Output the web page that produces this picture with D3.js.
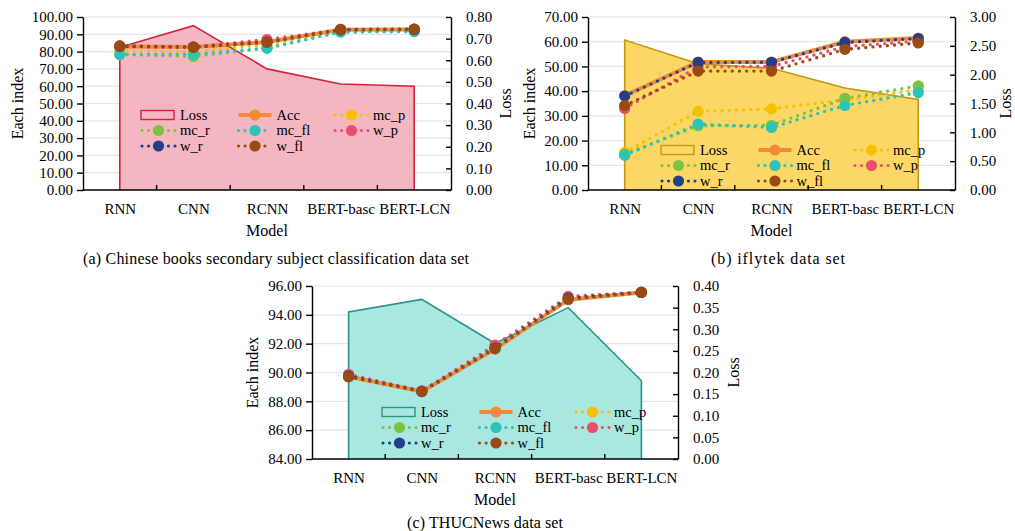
<!DOCTYPE html>
<html><head><meta charset="utf-8">
<script src="https://cdn.jsdelivr.net/npm/d3@7"></script>
<style>
html,body{margin:0;padding:0;background:#fff;}
svg text{font-family:"Liberation Serif","Times New Roman",serif;fill:#000;}
</style></head>
<body><svg id="chart" width="1015" height="531"></svg>
<script>
const categories = ["RNN","CNN","RCNN","BERT-basc","BERT-LCN"];
const seriesNames = ["Acc","mc_p","mc_r","mc_fl","w_p","w_r","w_fl"];
const legendOrder = ["Loss","Acc","mc_p","mc_r","mc_fl","w_p","w_r","w_fl"];

// Panel (a) Chinese books secondary subject classification
const lossA = [0.66, 0.76, 0.56, 0.49, 0.48];
const accA  = [83.0, 82.6, 85.5, 92.6, 92.8];
const mcpA  = [80.4, 80.0, 84.0, 92.0, 92.3];
const mcrA  = [78.3, 77.2, 82.0, 91.4, 91.8];
const mcflA = [78.4, 78.4, 82.0, 91.3, 91.6];
const wpA   = [83.3, 82.8, 87.0, 92.8, 93.0];
const wrA   = [83.0, 82.6, 85.5, 92.6, 92.8];
const wflA  = [83.3, 82.5, 85.4, 92.8, 93.0];
const leftTicksA  = [0,10,20,30,40,50,60,70,80,90,100];
const rightTicksA = [0,0.1,0.2,0.3,0.4,0.5,0.6,0.7,0.8];

// Panel (b) iflytek
const lossB = [2.60, 2.19, 2.11, 1.77, 1.57];
const accB  = [38.2, 51.8, 51.8, 60.0, 61.5];
const mcpB  = [15.2, 31.8, 32.8, 36.5, 40.5];
const mcrB  = [14.5, 26.0, 26.2, 37.1, 42.1];
const mcflB = [14.0, 26.7, 25.3, 34.2, 39.4];
const wpB   = [33.0, 49.8, 50.0, 58.0, 60.3];
const wrB   = [38.0, 51.6, 51.7, 59.7, 61.3];
const wflB  = [34.2, 48.1, 48.1, 56.9, 59.5];
const leftTicksB  = [0,10,20,30,40,50,60,70];
const rightTicksB = [0,0.5,1.0,1.5,2.0,2.5,3.0];

// Panel (c) THUCNews
const lossC = [0.340, 0.369, 0.267, 0.350, 0.181];
const accC  = [89.72, 88.68, 91.62, 95.05, 95.55];
const mcpC  = [89.75, 88.70, 91.70, 95.10, 95.55];
const mcrC  = [89.70, 88.68, 91.65, 95.10, 95.55];
const mcflC = [89.72, 88.68, 91.65, 95.08, 95.55];
const wpC   = [89.88, 88.72, 91.90, 95.28, 95.58];
const wrC   = [89.75, 88.70, 91.70, 95.15, 95.56];
const wflC  = [89.70, 88.68, 91.66, 95.08, 95.56];
const leftTicksC  = [84,86,88,90,92,94,96];
const rightTicksC = [0,0.05,0.10,0.15,0.20,0.25,0.30,0.35,0.40];

const colors = {Acc:"#f28a3a", mc_p:"#f6c100", mc_r:"#7dc242", mc_fl:"#2fc3b5",
                w_p:"#e94f6a", w_r:"#253e88", w_fl:"#9a4a12"};

const panels = [
  {box:{l:83,r:451,t:17,b:190}, loss:lossA, series:[accA,mcpA,mcrA,mcflA,wpA,wrA,wflA],
   lt:leftTicksA, rt:rightTicksA, lfmt:".2f", rfmt:".2f",
   fill:"#f4b6c0", stroke:"#d3223f", leg:{dx:58,dy:98}, yl:17, rl:505,
   caption:"(a) Chinese books secondary subject classification data set", cx:276, cy:264, cw:386},
  {box:{l:588,r:955,t:17,b:190}, loss:lossB, series:[accB,mcpB,mcrB,mcflB,wpB,wrB,wflB],
   lt:leftTicksB, rt:rightTicksB, lfmt:".2f", rfmt:".2f",
   fill:"#fdd765", stroke:"#bf9818", leg:{dx:73,dy:133}, yl:529, rl:1005,
   caption:"(b) iflytek data set", cx:778, cy:264, cw:134},
  {box:{l:312,r:678,t:286,b:459}, loss:lossC, series:[accC,mcpC,mcrC,mcflC,wpC,wrC,wflC],
   lt:leftTicksC, rt:rightTicksC, lfmt:".2f", rfmt:".2f",
   fill:"#a9e7e1", stroke:"#2a948b", leg:{dx:70,dy:126}, yl:252, rl:733,
   caption:"(c) THUCNews data set", cx:485, cy:528, cw:156}
];

const svg = d3.select("#chart");

function drawPanel(p){
  const {l,r,t,b} = p.box;
  const g = svg.append("g");
  const xb = d3.scaleBand().domain(categories).range([l,r]);
  const xc = d => xb(d) + xb.bandwidth()/2;
  const y = d3.scaleLinear().domain([p.lt[0], p.lt[p.lt.length-1]]).range([b,t]);
  const y2 = d3.scaleLinear().domain([p.rt[0], p.rt[p.rt.length-1]]).range([b,t]);

  // gridlines
  g.append("g").selectAll("line").data(p.lt.slice(1)).join("line")
    .attr("x1",l).attr("x2",r).attr("y1",d=>y(d)).attr("y2",d=>y(d))
    .attr("stroke","#e6e6e6").attr("stroke-width",1.2);

  // loss area
  const pts = categories.map((c,i)=>[xc(c), y2(p.loss[i])]);
  const poly = [[xc(categories[0]), b], ...pts, [xc(categories[4]), b]];
  g.append("path").attr("d", d3.line()(poly))
    .attr("fill",p.fill).attr("stroke",p.stroke).attr("stroke-width",1.6)
    .attr("stroke-linejoin","miter");

  // lines
  p.series.forEach((vals,si)=>{
    const name = seriesNames[si];
    const col = colors[name];
    const ln = d3.line().x((d,i)=>xc(categories[i])).y(d=>y(d));
    const path = g.append("path").attr("d", ln(vals)).attr("fill","none").attr("stroke",col);
    if(name==="Acc"){
      path.attr("stroke-width",4);
    } else {
      path.attr("stroke-width",3.4).attr("stroke-dasharray","0 7.2").attr("stroke-linecap","round");
    }
    g.append("g").selectAll("circle").data(vals).join("circle")
      .attr("cx",(d,i)=>xc(categories[i])).attr("cy",d=>y(d)).attr("r",5.6).attr("fill",col);
  });

  // axes
  const axL = g.append("g").attr("transform",`translate(${l},0)`)
    .call(d3.axisLeft(y).tickValues(p.lt).tickFormat(d3.format(p.lfmt)).tickSize(6).tickSizeOuter(0).tickPadding(4));
  const axR = g.append("g").attr("transform",`translate(${r},0)`)
    .call(d3.axisRight(y2).tickValues(p.rt).tickFormat(d3.format(p.rfmt)).tickSize(-5).tickSizeOuter(0).tickPadding(15));
  [axL,axR].forEach(a=>{
    a.selectAll("path,line").attr("stroke","#000").attr("stroke-width",1.4);
    a.selectAll("text").style("font-size","15px").attr("fill","#000")
     .style("font-family",'"Liberation Serif","Times New Roman",serif');
  });
  // bottom axis
  const axB = g.append("g").attr("transform",`translate(0,${b})`)
    .call(d3.axisBottom(d3.scalePoint().domain(categories).range([xc(categories[0]), xc(categories[4])]))
      .tickSize(0).tickPadding(13));
  axB.select(".domain").remove();
  axB.selectAll("text").style("font-size","15px").attr("fill","#000")
     .style("font-family",'"Liberation Serif","Times New Roman",serif');
  g.append("line").attr("x1",l).attr("x2",r).attr("y1",b).attr("y2",b)
    .attr("stroke","#000").attr("stroke-width",1.6);
  g.append("g").selectAll("line").data(categories.slice(1)).join("line")
    .attr("x1",d=>xb(d)).attr("x2",d=>xb(d)).attr("y1",b).attr("y2",b-5)
    .attr("stroke","#000").attr("stroke-width",1.4);

  // axis titles
  g.append("text").attr("x",(l+r)/2).attr("y",b+46).attr("text-anchor","middle")
    .style("font-size","16px").text("Model");
  g.append("text").attr("transform",`translate(${p.yl},${(t+b)/2}) rotate(-90)`)
    .attr("text-anchor","middle").attr("dy","0.35em").style("font-size","16px").text("Each index");
  g.append("text").attr("transform",`translate(${p.rl},${(t+b)/2}) rotate(-90)`)
    .attr("text-anchor","middle").attr("dy","0.35em").style("font-size","16px").text("Loss");

  // legend
  const lg = g.append("g").attr("transform",`translate(${l+p.leg.dx},${t+p.leg.dy})`);
  legendOrder.forEach((name,k)=>{
    const cx = (k%3)*96.5, cy = Math.floor(k/3)*15.5;
    const it = lg.append("g").attr("transform",`translate(${cx},${cy})`);
    if(name==="Loss"){
      it.append("rect").attr("x",0).attr("y",-4.5).attr("width",33).attr("height",9)
        .attr("fill",p.fill).attr("stroke",p.stroke).attr("stroke-width",1.4);
    } else {
      const col = colors[name];
      const ln = it.append("line").attr("x1",1).attr("x2",34).attr("y1",0).attr("y2",0).attr("stroke",col);
      if(name==="Acc") ln.attr("stroke-width",4);
      else ln.attr("stroke-width",3.2).attr("stroke-dasharray","0 6.6").attr("stroke-linecap","round");
      it.append("circle").attr("cx",17.5).attr("cy",0).attr("r",5.6).attr("fill",col);
    }
    it.append("text").attr("x",39).attr("y",0).attr("dy","0.33em").style("font-size","14.5px").text(name);
  });

  // caption
  svg.append("text").attr("x",p.cx).attr("y",p.cy).attr("text-anchor","middle")
    .attr("textLength",p.cw).attr("lengthAdjust","spacing")
    .style("font-size","16px").text(p.caption);
}
panels.forEach(drawPanel);
</script></body></html>
